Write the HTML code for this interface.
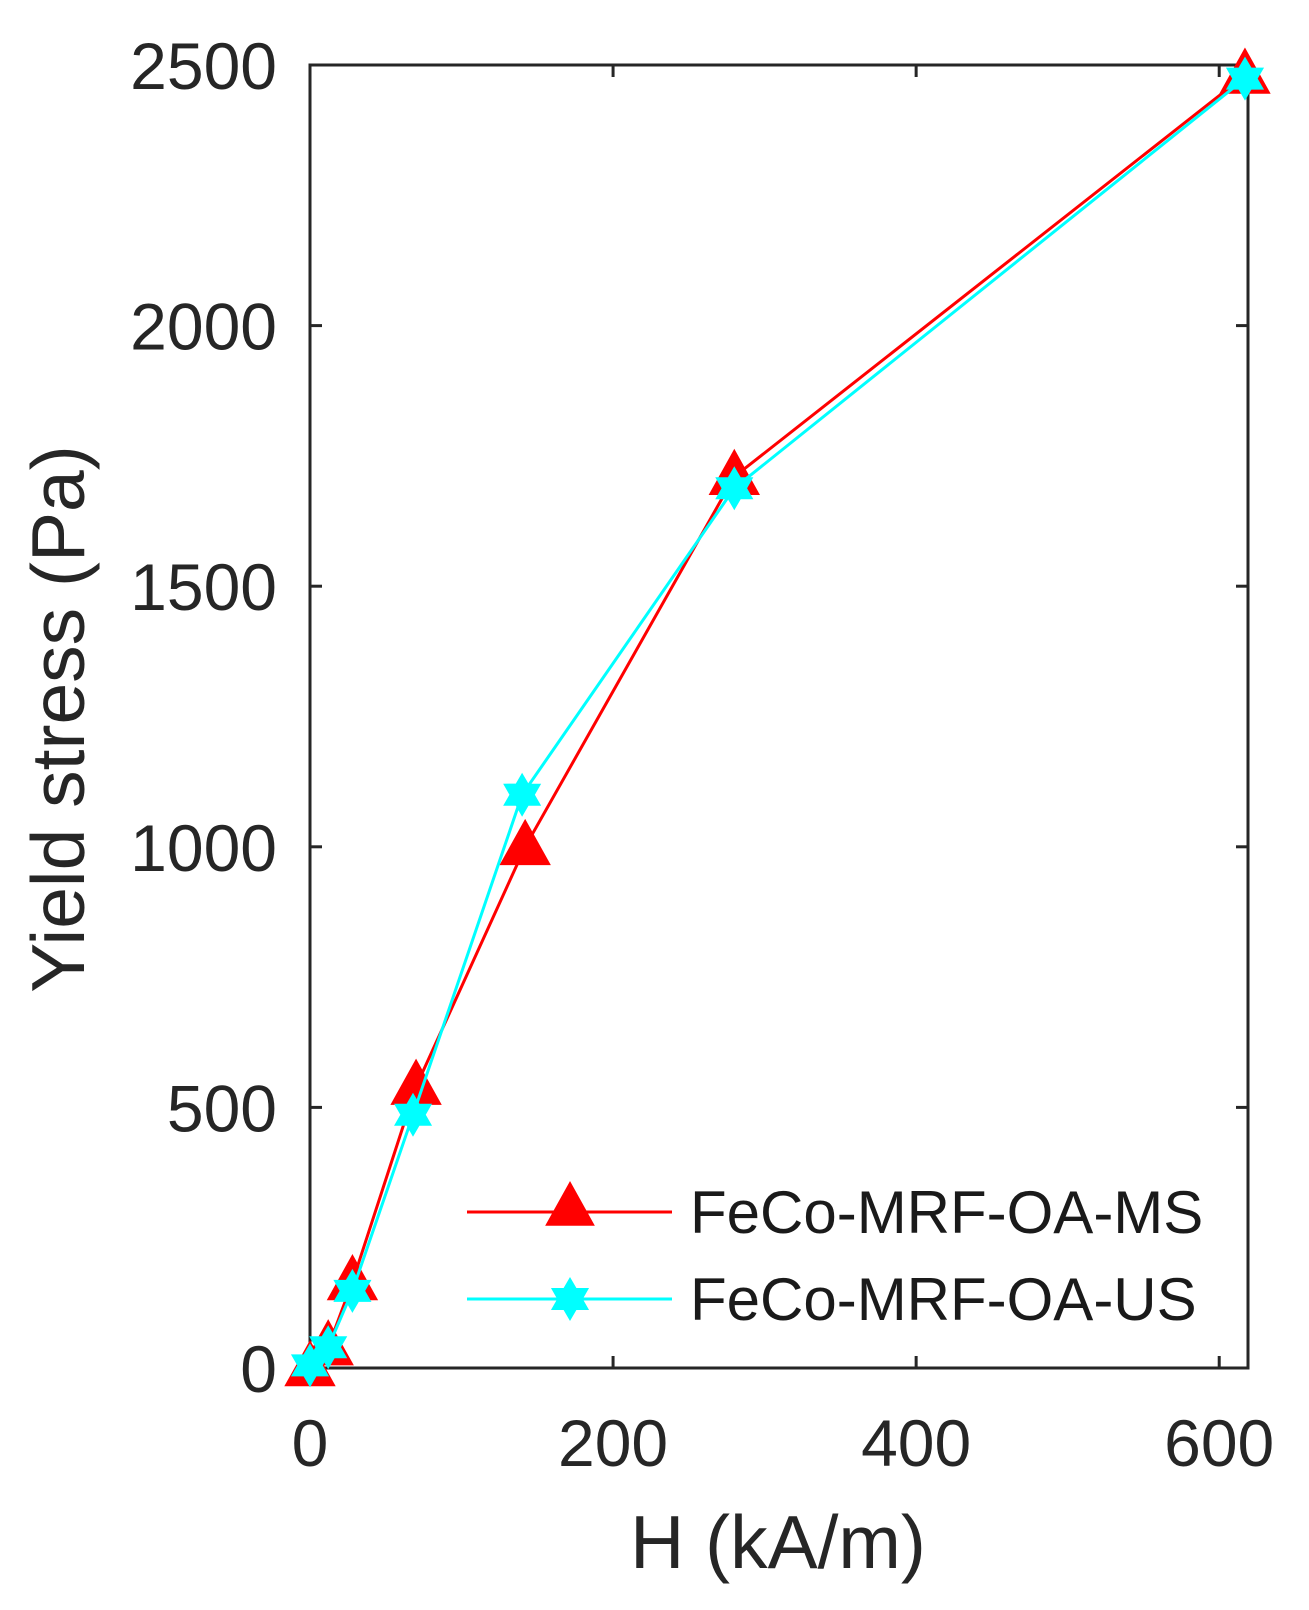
<!DOCTYPE html>
<html><head><meta charset="utf-8">
<style>
html,body{margin:0;padding:0;background:#fff;}
svg{display:block;font-family:"Liberation Sans",Arial,sans-serif;}
</style></head>
<body>
<svg id="chart" width="1309" height="1610" viewBox="0 0 1309 1610" xmlns="http://www.w3.org/2000/svg">
<g id="axes"></g>
<g id="series"></g>
<g id="legend"></g>
</svg>
<script>
const xTicks = [0, 200, 400, 600];
const yTicks = [0, 500, 1000, 1500, 2000, 2500];
const msX = [0, 12, 28, 70, 142, 280, 617];
const msY = [0, 40, 165, 540, 1000, 1710, 2480];
const usX = [0, 12, 28, 68, 140, 280, 617];
const usY = [5, 40, 148, 486, 1100, 1688, 2474];
const seriesNames = ["FeCo-MRF-OA-MS", "FeCo-MRF-OA-US"];

const L = 310, R = 1248, T = 65, B = 1368;
const X0 = 0, X1 = 619, Y0 = 0, Y1 = 2500;
const sx = v => L + (v - X0) / (X1 - X0) * (R - L);
const sy = v => B - (v - Y0) / (Y1 - Y0) * (B - T);
const NS = "http://www.w3.org/2000/svg";
function mk(tag, attrs, parent) {
  const e = document.createElementNS(NS, tag);
  for (const k in attrs) e.setAttribute(k, attrs[k]);
  parent.appendChild(e);
  return e;
}
const axes = document.getElementById('axes');
const series = document.getElementById('series');
const legend = document.getElementById('legend');

const box = mk('rect', {x: L, y: T, width: R - L, height: B - T, fill: 'none', stroke: '#262626', 'stroke-width': 3}, axes);



xTicks.forEach(v => {
  const x = sx(v);
  const t1 = mk('line', {x1: x, x2: x, y1: B, y2: B - 12, stroke: '#262626', 'stroke-width': 3}, axes);
  
  
  const t2 = mk('line', {x1: x, x2: x, y1: T, y2: T + 12, stroke: '#262626', 'stroke-width': 3}, axes);
  
  
  const lb = mk('text', {x: x, y: 1466, 'text-anchor': 'middle', 'font-size': 66, fill: '#262626'}, axes);
  lb.textContent = v;
  
  
});
yTicks.forEach(v => {
  const y = sy(v);
  const t1 = mk('line', {x1: L, x2: L + 12, y1: y, y2: y, stroke: '#262626', 'stroke-width': 3}, axes);
  
  
  const t2 = mk('line', {x1: R, x2: R - 12, y1: y, y2: y, stroke: '#262626', 'stroke-width': 3}, axes);
  
  
  const lb = mk('text', {x: 277, y: y + 24, 'text-anchor': 'end', 'font-size': 66, fill: '#262626'}, axes);
  lb.textContent = v;
  
  
});
const xt = mk('text', {x: 778, y: 1568, 'text-anchor': 'middle', 'font-size': 75, fill: '#262626'}, axes);
xt.textContent = 'H (kA/m)';


const yt = mk('text', {x: 0, y: 0, 'text-anchor': 'middle', 'font-size': 75, fill: '#262626', transform: 'translate(84,719) rotate(-90)'}, axes);
yt.textContent = 'Yield stress (Pa)';



function tri(cx, cy, s) {
  const h = s * 0.9;
  return `${cx},${cy - h * 0.6} ${cx - s / 2},${cy + h * 0.4} ${cx + s / 2},${cy + h * 0.4}`;
}
function star(cx, cy, r) {
  const pts = [];
  for (let i = 0; i < 12; i++) {
    const a = -Math.PI / 2 + i * Math.PI / 6;
    const rr = i % 2 === 0 ? r : r * 0.58;
    pts.push((cx + rr * Math.cos(a)).toFixed(1) + ',' + (cy + rr * Math.sin(a)).toFixed(1));
  }
  return pts.join(' ');
}

const msLine = mk('polyline', {points: msX.map((v, i) => sx(v) + ',' + sy(msY[i])).join(' '), fill: 'none', stroke: '#ff0000', 'stroke-width': 3}, series);


msX.forEach((v, i) => {
  const m = mk('polygon', {points: tri(sx(v), sy(msY[i]), 48), fill: '#ff0000', stroke: '#ff0000', 'stroke-width': 2}, series);
  
  
});
const usLine = mk('polyline', {points: usX.map((v, i) => sx(v) + ',' + sy(usY[i])).join(' '), fill: 'none', stroke: '#00ffff', 'stroke-width': 3}, series);


usX.forEach((v, i) => {
  const m = mk('polygon', {points: star(sx(v), sy(usY[i]), 21), fill: '#00ffff', stroke: '#00ffff', 'stroke-width': 1}, series);
  
  
});

const ly = [1212, 1299];
const lc = ['#ff0000', '#00ffff'];
seriesNames.forEach((n, i) => {
  const ln = mk('line', {x1: 467, x2: 672, y1: ly[i], y2: ly[i], stroke: lc[i], 'stroke-width': 3}, legend);
  
  
  const mp = i === 0 ? tri(570, ly[i] - 4, 48) : star(570, ly[i], 21);
  const mm = mk('polygon', {points: mp, fill: lc[i], stroke: lc[i], 'stroke-width': 1}, legend);
  
  
  const tx = mk('text', {x: 690, y: ly[i] + 21, 'font-size': 60, fill: '#1a1a1a'}, legend);
  tx.textContent = n;
  
  
});
</script>
</body></html>
